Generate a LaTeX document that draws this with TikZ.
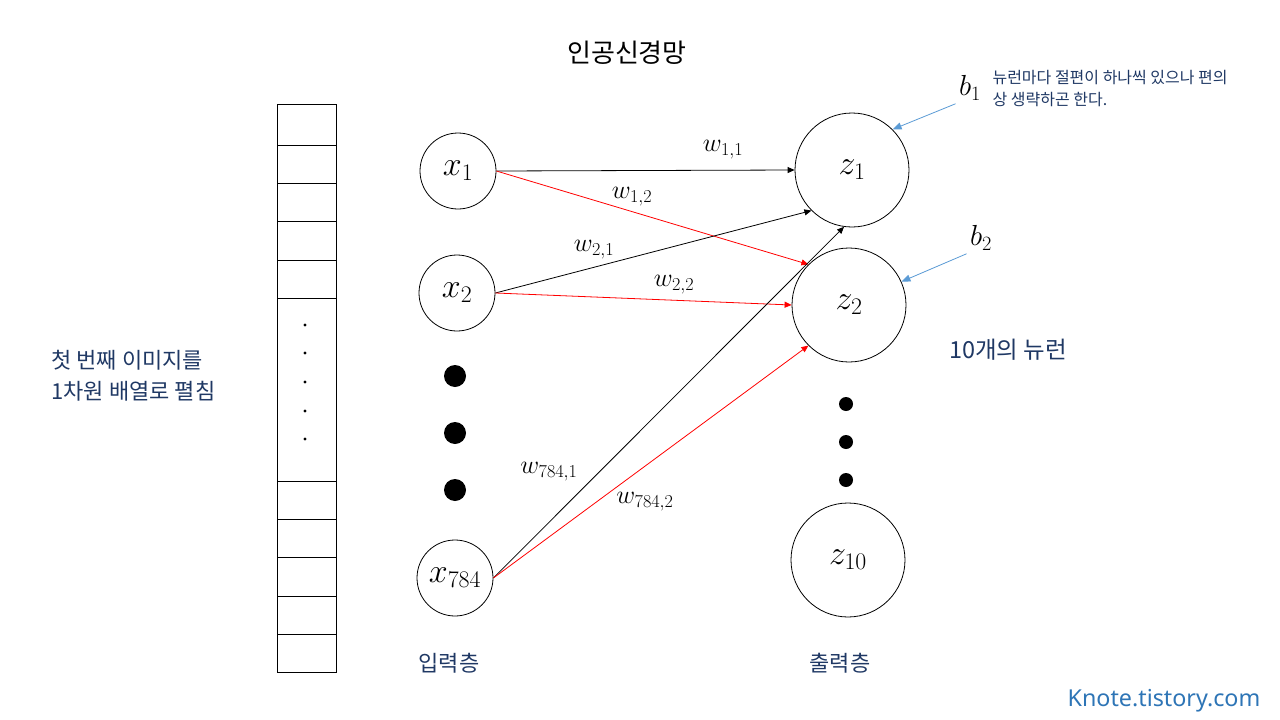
\documentclass[tikz,border=0pt]{standalone}
\usepackage{fix-cm}
\usepackage{amsmath}
\usepackage{fontspec}
\usepackage{tikz}
\usepackage{xcolor}
\usetikzlibrary{arrows.meta}

\newfontfamily\kor{Noto Sans CJK KR}
\newfontfamily\site{Noto Sans}
\definecolor{navy}{RGB}{31,56,100}
\definecolor{sitecol}{RGB}{46,117,182}
\definecolor{biascol}{RGB}{91,155,213}

\begin{document}
\begin{tikzpicture}[x=1pt, y=-1pt,
  neuron_in/.style={circle, draw, line width=0.8pt, minimum size=76pt, inner sep=0pt, font=\fontsize{34}{35}\selectfont},
  neuron_out/.style={circle, draw, line width=0.8pt, minimum size=114pt, inner sep=0pt, font=\fontsize{34}{35}\selectfont},
  weight/.style={font=\fontsize{26}{27}\selectfont},
  bias/.style={font=\fontsize{29}{30}\selectfont},
  kortext/.style={text=navy, font=\kor\fontsize{22}{31}\selectfont},
  link/.style={line width=0.8pt, -{Triangle[length=7pt, width=6pt]}},
  biaslink/.style={line width=0.8pt, biascol, -{Triangle[length=9pt, width=7pt]}}]
  \useasboundingbox (0,0) rectangle (1280,720);

  % flattened image
  \draw[line width=0.8pt] (277,104) rectangle (336,672);
  \draw[line width=0.8pt] (277,145) -- (336,145) (277,183) -- (336,183)
    (277,221) -- (336,221) (277,260) -- (336,260) (277,298) -- (336,298)
    (277,481) -- (336,481) (277,519) -- (336,519) (277,557) -- (336,557)
    (277,596) -- (336,596) (277,634) -- (336,634);
  \fill (305,325) circle (1.7pt);
  \fill (305,353) circle (1.7pt);
  \fill (305,382) circle (1.7pt);
  \fill (305,411) circle (1.7pt);
  \fill (305,439) circle (1.7pt);

  \node[font=\kor\fontsize{26}{28}\selectfont] (title) at (627,53) {인공신경망};
  \node[kortext, anchor=west, align=left] (flatten_note) at (48,376) {첫 번째 이미지를\\1차원 배열로 펼침};

  % input layer
  \node[neuron_in] (input_1) at (458,171) {$x_1$};
  \node[neuron_in] (input_2) at (457,293) {$x_2$};
  \node[neuron_in] (input_784) at (455,578) {$x_{784}$};
  \fill (455,376) circle (11pt);
  \fill (455,433) circle (11pt);
  \fill (455,490) circle (11pt);
  \node[kortext] (input_label) at (449,663) {입력층};

  % output layer
  \node[neuron_out] (output_1) at (852,170) {$z_1$};
  \node[neuron_out] (output_2) at (849,305) {$z_2$};
  \node[neuron_out] (output_10) at (848,560) {$z_{10}$};
  \fill (846,404) circle (7pt);
  \fill (846,442) circle (7pt);
  \fill (846,480) circle (7pt);
  \node[kortext] (output_label) at (840,663) {출력층};
  \node[kortext, font=\kor\fontsize{23.5}{26}\selectfont] (neuron_count) at (1008,350) {10개의 뉴런};

  \draw[link] (input_1.east) -- (output_1.west);
  \draw[link, red] (input_1.east) -- (output_2.135);
  \draw[link] (input_2.east) -- (output_1.225);
  \draw[link, red] (input_2.east) -- (output_2.west);
  \draw[link] (input_784.east) -- (output_1.262);
  \draw[link, red] (input_784.east) -- (output_2.225);

  \node[weight] (w_1_1) at (723,150) {$w_{1,1}$};
  \node[weight] (w_1_2) at (632,197) {$w_{1,2}$};
  \node[weight] (w_2_1) at (594,250) {$w_{2,1}$};
  \node[weight] (w_2_2) at (674,285) {$w_{2,2}$};
  \node[weight] (w_784_1) at (549,472) {$w_{784,1}$};
  \node[weight] (w_784_2) at (645,502) {$w_{784,2}$};

  % biases
  \node[bias] (bias_1) at (970,88) {$b_1$};
  \node[bias] (bias_2) at (981,238) {$b_2$};
  \draw[biaslink] (bias_1.south west) -- (output_1.45);
  \draw[biaslink] (bias_2.south west) -- (output_2.24);
  \node[anchor=west, align=left, text=navy, font=\kor\fontsize{16}{22}\selectfont] (bias_note) at (989,89) {뉴런마다 절편이 하나씩 있으나 편의\\상 생략하곤 한다.};

  \node[text=sitecol, font=\site\fontsize{23.3}{25}\selectfont] (site) at (1164,701) {Knote.tistory.com};
\end{tikzpicture}
\end{document}
